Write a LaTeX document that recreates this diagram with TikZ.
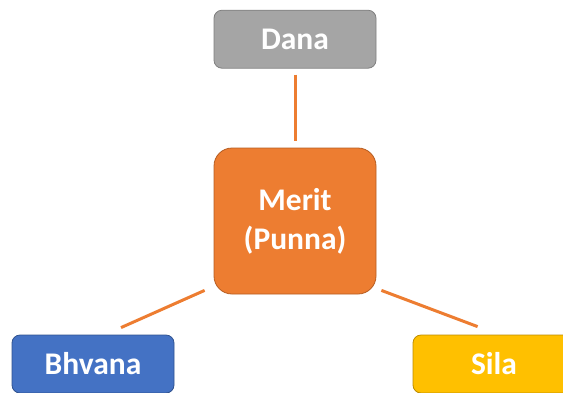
\documentclass[tikz,border=0pt]{standalone}
\usepackage{fontspec}
\setmainfont{Carlito}
\usetikzlibrary{positioning,calc}
\definecolor{meritfill}{HTML}{ED7D31}
\definecolor{meritedge}{HTML}{B65D22}
\definecolor{danafill}{HTML}{A5A5A5}
\definecolor{danaedge}{HTML}{7F7F7F}
\definecolor{bhvanafill}{HTML}{4472C4}
\definecolor{bhvanaedge}{HTML}{2F528F}
\definecolor{silafill}{HTML}{FFC000}
\definecolor{silaedge}{HTML}{BC8C00}
\begin{document}
\begin{tikzpicture}[x=1pt,y=-1pt,
      box/.style={rectangle,rounded corners=8pt,draw,line width=0.8pt,minimum width=162pt,
        minimum height=58pt,inner sep=0pt,text=white,align=center,
        font=\bfseries\fontsize{31.5}{39}\selectfont},
      link/.style={draw=meritfill,line width=3pt}]
      \useasboundingbox (0,0) rectangle (563,392);
      \node[box,fill=meritfill,draw=meritedge,rounded corners=18pt,minimum height=146pt] (merit) at (295,221) {Merit\\(Punna)};
      \node[box,fill=danafill,draw=danaedge] (dana) [above=79pt of merit] {Dana};
      \node[box,fill=bhvanafill,draw=bhvanaedge] (bhvana) at (93,364) {Bhvana};
      \node[box,fill=silafill,draw=silaedge] (sila) at (494,364) {Sila};

      \draw[link,shorten <=6pt,shorten >=7pt] (dana) -- (merit);
      \draw[link] ($(merit.south west)+(-9,-4)$) -- ($(bhvana.north)+(28,-7)$);
      \draw[link] ($(merit.south east)+(5,-4)$) -- ($(sila.north west)+(65,-8)$);
    \end{tikzpicture}
\end{document}
